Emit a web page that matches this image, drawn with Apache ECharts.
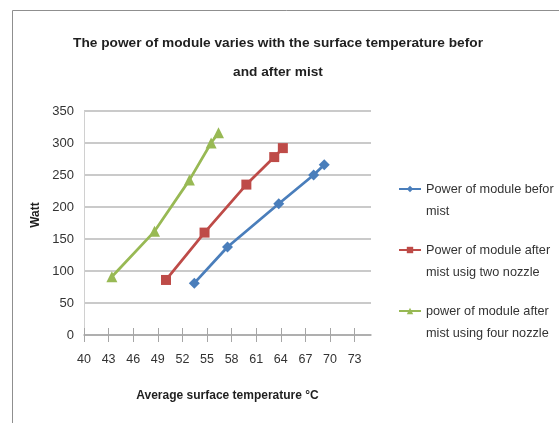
<!DOCTYPE html>
<html>
<head>
<meta charset="utf-8">
<script src="https://cdn.jsdelivr.net/npm/echarts@6/dist/echarts.min.js"></script>
<style>
  html, body { margin: 0; padding: 0; background: #fff; }
  #chart { width: 559px; height: 423px; }
</style>
</head>
<body>
<div id="chart"></div>
<script>
// Module power (W) against average surface temperature (°C)
const tempBefore   = [53.45, 57.5, 63.75, 68.0, 69.3];
const powerBefore  = [81, 137.5, 205, 250, 266];

const tempTwo      = [50.0, 54.7, 59.8, 63.2, 64.25];
const powerTwo     = [86, 160, 235, 278, 292];

const tempFour     = [43.4, 48.6, 52.85, 55.5, 56.4];
const powerFour    = [91, 162, 242, 300, 316];

const xTicks = [40, 43, 46, 49, 52, 55, 58, 61, 64, 67, 70, 73];
const yTicks = [0, 50, 100, 150, 200, 250, 300, 350];

const seriesNames = [
  'Power of module befor mist',
  'Power of module after mist usig two nozzle',
  'power of module after mist using four nozzle'
];
// Legend text: a blank leading line keeps the icon level with the first line
const legendLines = {
  'Power of module befor mist': ' \nPower of module befor\nmist',
  'Power of module after mist usig two nozzle': ' \nPower of module after\nmist usig two nozzle',
  'power of module after mist using four nozzle': ' \npower of module after\nmist using four nozzle'
};

const FONT = '"Liberation Sans", Arial, sans-serif';
const AXIS_GREY = '#a6a6a6';

function pairs(xs, ys) { return xs.map((x, i) => [x, ys[i]]); }

const chart = echarts.init(document.getElementById('chart'), null, { renderer: 'canvas' });

chart.setOption({
  backgroundColor: '#ffffff',
  animation: false,
  graphic: [{
    type: 'rect',
    silent: true,
    shape: { x: 12.5, y: 10.5, width: 620, height: 500 },
    style: { fill: 'none', stroke: '#8f8f8f', lineWidth: 1 }
  }],
  title: {
    text: 'The power of module varies with the surface temperature befor\nand after mist',
    left: 273,
    top: 24,
    textAlign: 'center',
    textStyle: {
      fontFamily: FONT, fontSize: 13.7, fontWeight: 'bold', color: '#1f1f1f', lineHeight: 29
    }
  },
  legend: {
    orient: 'vertical',
    left: 398,
    top: 156,
    padding: 0,
    itemGap: -5,
    itemWidth: 22,
    itemHeight: 8,
    data: seriesNames,
    formatter: name => legendLines[name],
    textStyle: {
      fontFamily: FONT, fontSize: 12.7, color: '#333', lineHeight: 22
    }
  },
  grid: { left: 84, right: 188, top: 111, bottom: 88 },
  xAxis: [
    {
      type: 'value',
      min: 40,
      max: 75,
      name: 'Average surface temperature °C',
      nameLocation: 'middle',
      nameGap: 55,
      nameTextStyle: { fontFamily: FONT, fontSize: 12, fontWeight: 'bold', color: '#1f1f1f' },
      axisLine: { show: true, lineStyle: { color: AXIS_GREY, width: 1.5 } },
      axisTick: { show: true, length: 7, customValues: xTicks, lineStyle: { color: AXIS_GREY } },
      axisLabel: {
        customValues: xTicks, margin: 18,
        fontFamily: FONT, fontSize: 12.5, color: '#333'
      },
      splitLine: { show: false }
    },
    {
      // second copy of the bottom axis carrying the upward half of the cross ticks
      type: 'value',
      min: 40,
      max: 75,
      position: 'bottom',
      axisLine: { show: false },
      axisTick: { show: true, inside: true, length: 7, customValues: xTicks, lineStyle: { color: AXIS_GREY } },
      axisLabel: { show: false },
      splitLine: { show: false }
    }
  ],
  yAxis: {
    type: 'value',
    min: 0,
    max: 350,
    interval: 50,
    name: 'Watt',
    nameLocation: 'middle',
    nameGap: 36,
    nameRotate: 90,
    nameTextStyle: {
      fontFamily: FONT, fontSize: 12, fontWeight: 'bold', color: '#1f1f1f',
      padding: [0, 0, 0, 16]
    },
    axisLine: { show: true, lineStyle: { color: '#d0d0d0', width: 1 } },
    axisTick: { show: false },
    axisLabel: { margin: 10, fontFamily: FONT, fontSize: 13, color: '#333' },
    splitLine: { show: true, lineStyle: { color: '#b8b8b8', width: 1.5 } }
  },
  series: [
    {
      name: seriesNames[0],
      type: 'line',
      data: pairs(tempBefore, powerBefore),
      symbol: 'diamond',
      symbolSize: 11,
      color: '#4a7ebb',
      lineStyle: { width: 2.75, color: '#4a7ebb' },
      itemStyle: { color: '#4a7ebb' }
    },
    {
      name: seriesNames[1],
      type: 'line',
      data: pairs(tempTwo, powerTwo),
      symbol: 'rect',
      symbolSize: 10,
      color: '#be4b48',
      lineStyle: { width: 2.75, color: '#be4b48' },
      itemStyle: { color: '#be4b48' }
    },
    {
      name: seriesNames[2],
      type: 'line',
      data: pairs(tempFour, powerFour),
      symbol: 'triangle',
      symbolSize: 11,
      color: '#98b954',
      lineStyle: { width: 2.75, color: '#98b954' },
      itemStyle: { color: '#98b954' }
    }
  ]
});
</script>
</body>
</html>
